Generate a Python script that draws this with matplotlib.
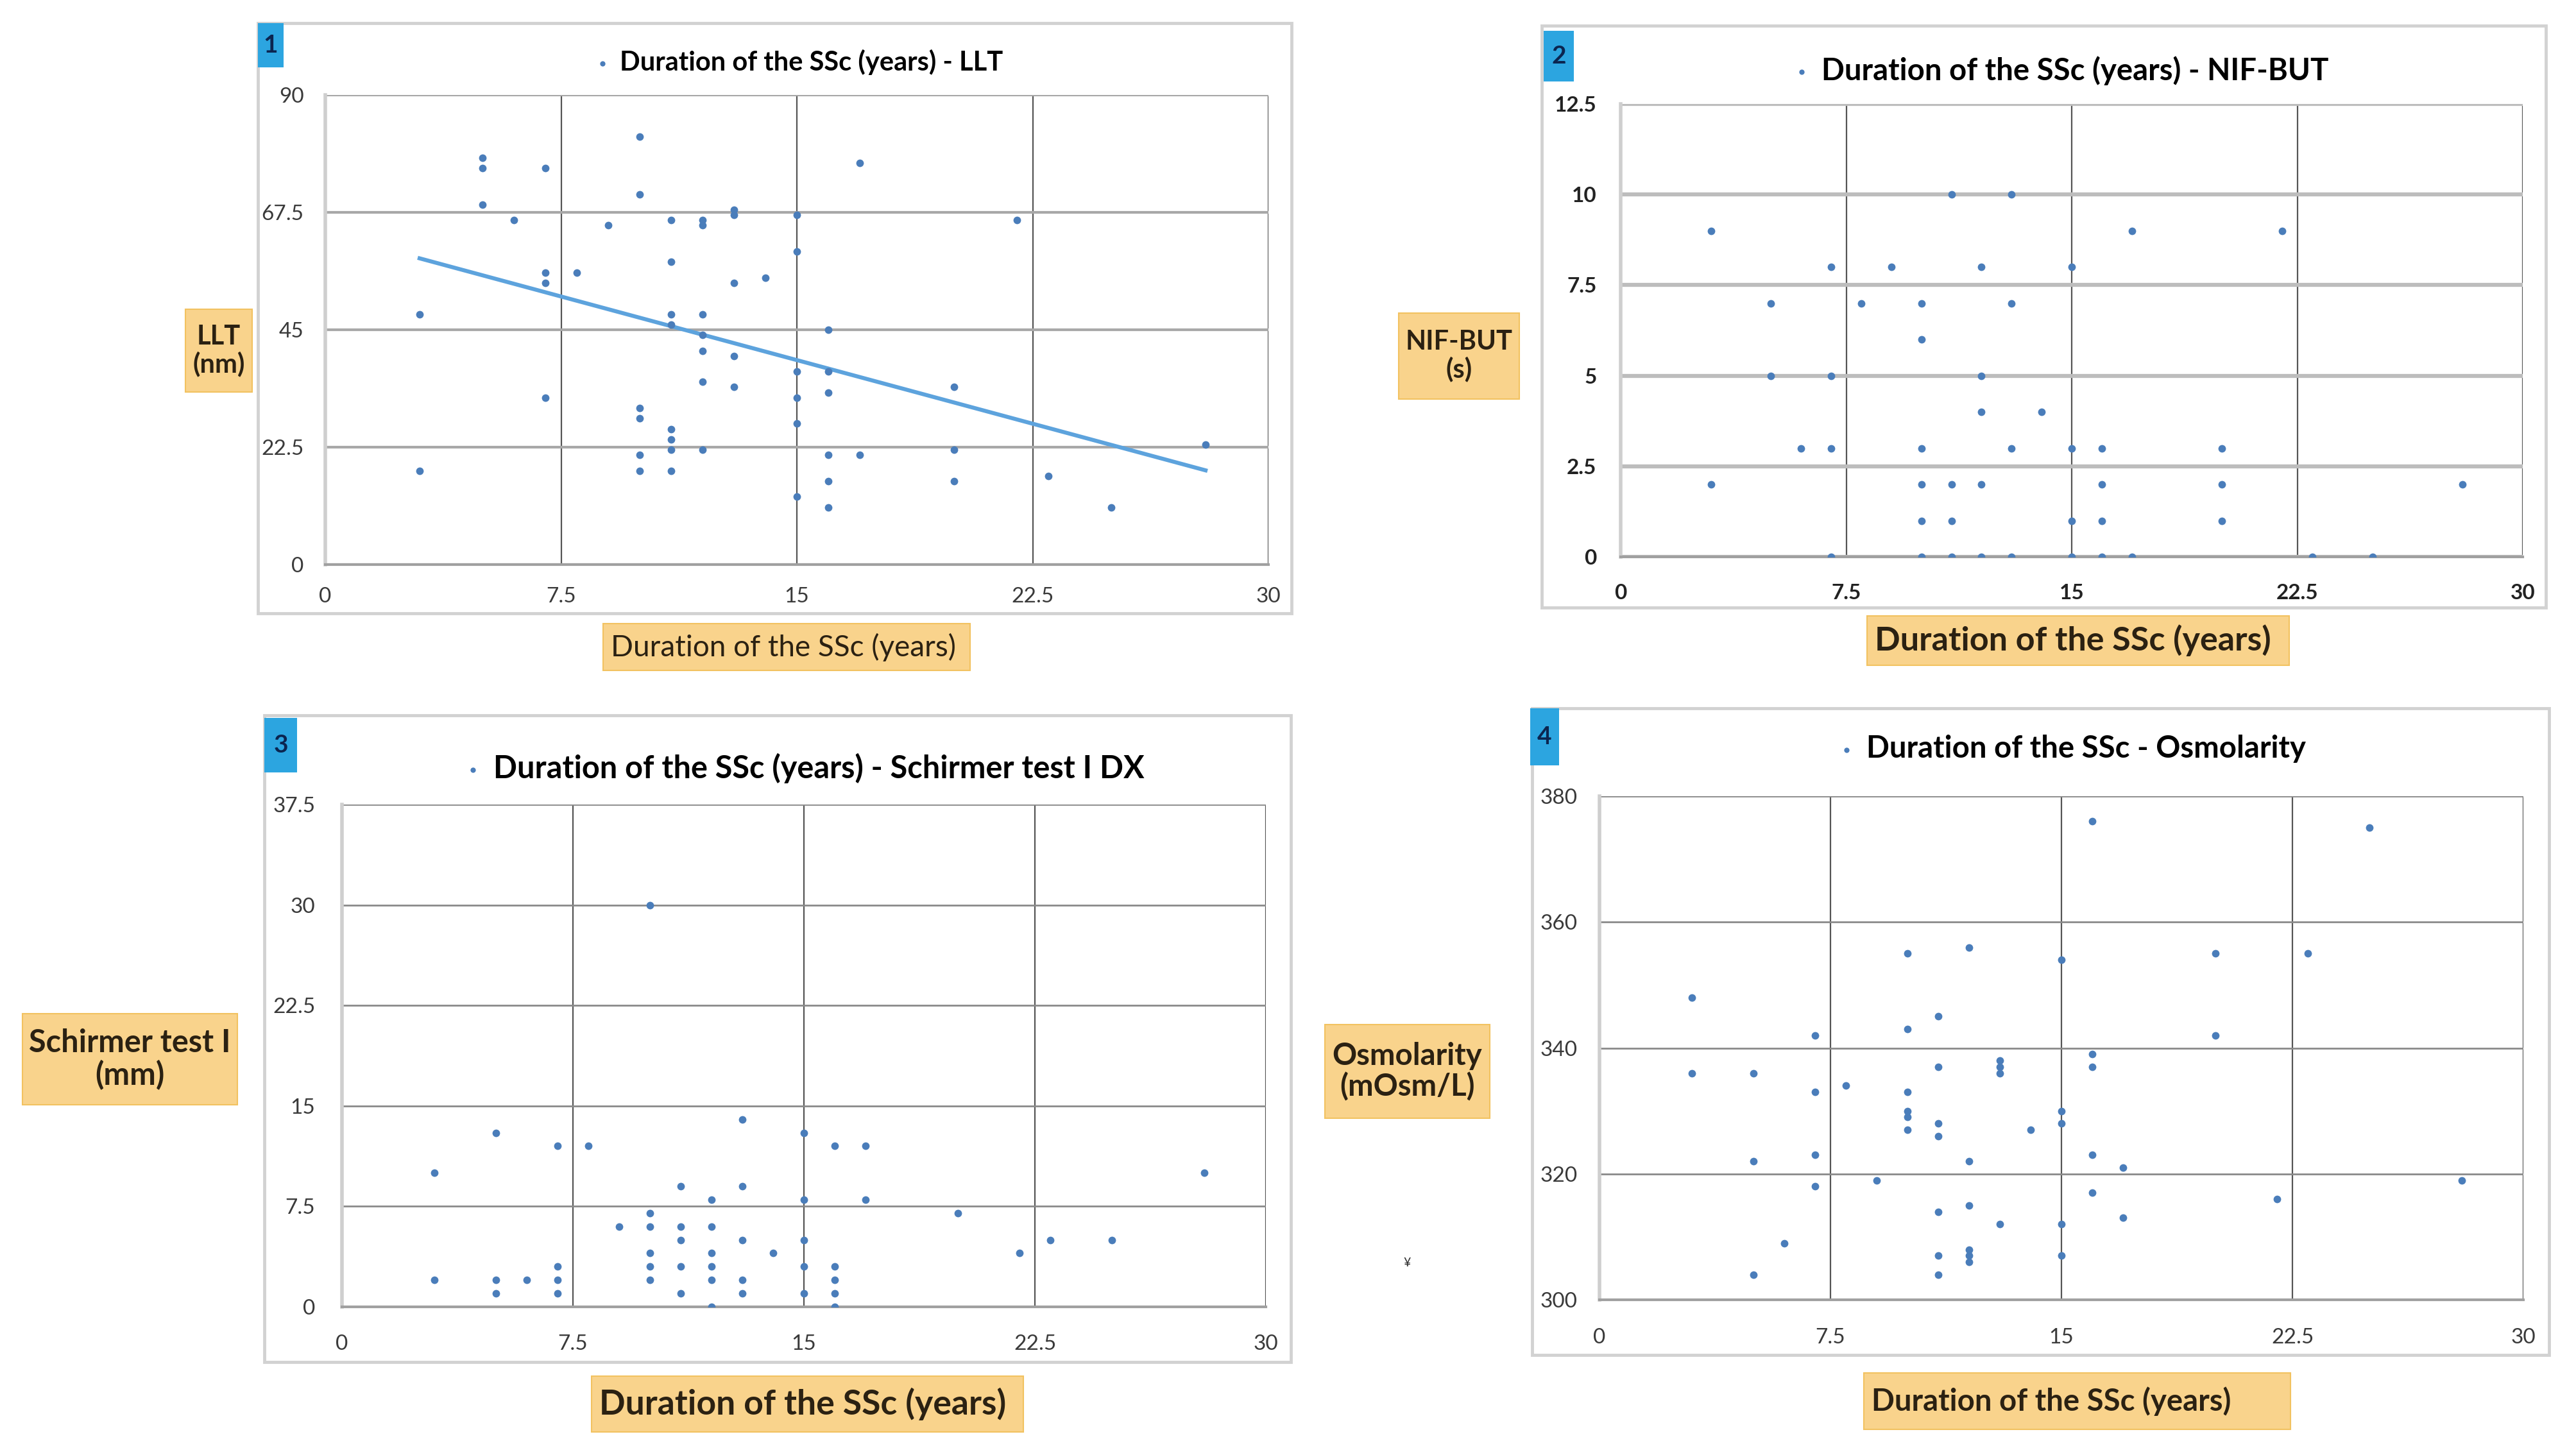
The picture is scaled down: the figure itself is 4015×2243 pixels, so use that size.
import matplotlib
matplotlib.use("Agg")
import matplotlib.pyplot as plt
import numpy as np
from matplotlib.patches import Rectangle
from matplotlib.ticker import FuncFormatter

# --- data ---
llt_years = [3, 3, 5, 5, 5, 6, 7, 7, 7, 7, 8, 9, 10, 10, 10, 10, 10, 10,
             11, 11, 11, 11, 11, 11, 11, 11, 12, 12, 12, 12, 12, 12, 12,
             13, 13, 13, 13, 13, 14, 15, 15, 15, 15, 15, 15, 16, 16, 16,
             16, 16, 16, 17, 17, 20, 20, 20, 22, 23, 25, 28]
llt_nm = [48, 18, 78, 76, 69, 66, 76, 56, 54, 32, 56, 65, 82, 71, 30, 28, 21, 18,
          66, 58, 48, 46, 26, 24, 22, 18, 66, 65, 48, 44, 41, 35, 22,
          68, 67, 54, 40, 34, 55, 67, 60, 37, 32, 27, 13, 45, 37, 33,
          21, 16, 11, 77, 21, 34, 22, 16, 66, 17, 11, 23]

but_years = [3, 3, 5, 5, 6, 7, 7, 7, 7, 8, 9, 10, 10, 10, 10, 10, 10,
             11, 11, 11, 11, 12, 12, 12, 12, 12, 13, 13, 13, 13, 14,
             15, 15, 15, 15, 16, 16, 16, 16, 17, 17, 20, 20, 20, 22, 23, 25, 28]
but_s = [9, 2, 7, 5, 3, 8, 5, 3, 0, 7, 8, 7, 6, 3, 2, 1, 0,
         10, 2, 1, 0, 8, 5, 4, 2, 0, 10, 7, 3, 0, 4,
         8, 3, 1, 0, 3, 2, 1, 0, 9, 0, 3, 2, 1, 9, 0, 0, 2]

sch_years = [3, 3, 5, 5, 5, 6, 7, 7, 7, 7, 8, 9, 10, 10, 10, 10, 10, 10,
             11, 11, 11, 11, 11, 12, 12, 12, 12, 12, 12, 13, 13, 13, 13, 13,
             14, 15, 15, 15, 15, 15, 16, 16, 16, 16, 16, 17, 17, 20, 22, 23, 25, 28]
sch_mm = [10, 2, 13, 2, 1, 2, 12, 3, 2, 1, 12, 6, 30, 7, 6, 4, 3, 2,
          9, 6, 5, 3, 1, 8, 6, 4, 3, 2, 0, 14, 9, 5, 2, 1,
          4, 13, 8, 5, 3, 1, 12, 3, 2, 1, 0, 12, 8, 7, 4, 5, 5, 10]

osm_years = [3, 3, 5, 5, 5, 6, 7, 7, 7, 7, 8, 9, 10, 10, 10, 10, 10, 10,
             11, 11, 11, 11, 11, 11, 11, 12, 12, 12, 12, 12, 12,
             13, 13, 13, 13, 14, 15, 15, 15, 15, 15, 16, 16, 16, 16, 16,
             17, 17, 20, 20, 22, 23, 25, 28]
osm_val = [348, 336, 336, 322, 304, 309, 342, 333, 323, 318, 334, 319,
           355, 343, 333, 330, 329, 327, 345, 337, 328, 326, 314, 307, 304,
           356, 322, 315, 308, 307, 306, 338, 337, 336, 312, 327,
           354, 330, 328, 312, 307, 376, 339, 337, 323, 317,
           321, 313, 355, 342, 316, 355, 375, 319]

x_ticks = [0, 7.5, 15, 22.5, 30]
llt_ticks = [0, 22.5, 45, 67.5, 90]
but_ticks = [0, 2.5, 5, 7.5, 10, 12.5]
sch_ticks = [0, 7.5, 15, 22.5, 30, 37.5]
osm_ticks = [300, 320, 340, 360, 380]

titles = ["Duration of the SSc (years) - LLT",
          "Duration of the SSc (years) - NIF-BUT",
          "Duration of the SSc (years) - Schirmer test I DX",
          "Duration of the SSc - Osmolarity"]
y_labels = ["LLT\n(nm)", "NIF-BUT\n(s)", "Schirmer test I\n(mm)", "Osmolarity\n(mOsm/L)"]
x_label = "Duration of the SSc (years)"

# --- layout, in pixels of the 4015x2243 picture ---
W, H = 4015, 2243
FONT = "Lato"
DOT = "#4A7DBA"
ORANGE = "#F9D38C"
NUMBLUE = "#2CA5E0"


def fbox(l, t, r, b):
    return [l / W, 1 - b / H, (r - l) / W, (b - t) / H]


def rect(fig, l, t, r, b, **kw):
    x, y, w, h = fbox(l, t, r, b)
    p = Rectangle((x, y), w, h, transform=fig.transFigure, **kw)
    fig.patches.append(p)
    return p


def ftext(fig, x, y, s, **kw):
    fig.text(x / W, 1 - y / H, s, family=FONT, **kw)


panels = [
    dict(xs=llt_years, ys=llt_nm, yt=llt_ticks, ax=(507, 148, 1977, 880),
         frame=(402, 36, 2013, 956), num=(402, 36, 442, 105),
         title=(1246, 97, 30), ylab=(289, 482, 393, 611, 30),
         xlab=(940, 972, 1512, 1045, 33, "normal"),
         hgrid=("#a8a8a8", 3.0), pad=(24, 25), tickw="normal", trend=True),
    dict(xs=but_years, ys=but_s, yt=but_ticks, ax=(2526, 162, 3932, 868),
         frame=(2403, 40, 3968, 947), num=(2406, 48, 2453, 127),
         title=(3213, 110, 34), ylab=(2180, 488, 2368, 622, 30),
         xlab=(2910, 960, 3568, 1037, 37.5, "bold"),
         hgrid=("#bdbdbd", 4.5), pad=(27, 30), tickw="bold", trend=False),
    dict(xs=sch_years, ys=sch_mm, yt=sch_ticks, ax=(533, 1254, 1973, 2037),
         frame=(412, 1115, 2012, 2123), num=(412, 1119, 463, 1204),
         title=(1254, 1197, 35), ylab=(35, 1580, 370, 1722, 35),
         xlab=(922, 2145, 1595, 2232, 38.5, "bold"),
         hgrid=("#8a8a8a", 2.0), pad=(30, 31), tickw="normal", trend=False),
    dict(xs=osm_years, ys=osm_val, yt=osm_ticks, ax=(2493, 1241, 3933, 2026),
         frame=(2388, 1104, 3973, 2112), num=(2385, 1104, 2430, 1193),
         title=(3230, 1167, 34), ylab=(2065, 1597, 2322, 1743, 34),
         xlab=(2905, 2140, 3570, 2228, 34, "bold"),
         hgrid=("#8a8a8a", 2.0), pad=(25, 32), tickw="normal", trend=False),
]

fig = plt.figure(figsize=(W / 100, H / 100), dpi=100)
fig.patch.set_facecolor("white")

for i, p in enumerate(panels):
    # outer chart frame
    rect(fig, *p["frame"], fill=False, ec="#d2d2d2", lw=3.5, zorder=0)

    ax = fig.add_axes(fbox(*p["ax"]))
    sc = ax.scatter(p["xs"], p["ys"], s=72, color=DOT, zorder=3, linewidths=0)
    if p["trend"]:
        k, c = np.polyfit(p["xs"], p["ys"], 1)
        xl = np.array([min(p["xs"]), max(p["xs"])])
        ax.plot(xl, k * xl + c, color="#5DA3DD", lw=4.5, zorder=2)

    ax.set_xlim(0, 30)
    ax.set_ylim(p["yt"][0], p["yt"][-1])
    ax.set_xticks(x_ticks)
    ax.set_yticks(p["yt"])
    fmt = FuncFormatter(lambda v, pos: "%g" % v)
    ax.xaxis.set_major_formatter(fmt)
    ax.yaxis.set_major_formatter(fmt)
    for lab in ax.get_xticklabels() + ax.get_yticklabels():
        lab.set_family(FONT)
        lab.set_fontsize(24)
        lab.set_color("#222222" if p["tickw"] == "bold" else "#3a3a3a")
        lab.set_fontweight(p["tickw"])
    ax.tick_params(length=0)
    ax.tick_params(axis="y", pad=p["pad"][0])
    ax.tick_params(axis="x", pad=p["pad"][1])

    ax.grid(axis="x", color="#555555", lw=1.6, zorder=1)
    ax.grid(axis="y", color=p["hgrid"][0], lw=p["hgrid"][1], zorder=1)
    for side in ["top", "right"]:
        ax.spines[side].set_visible(False)
    ax.spines["left"].set_color("#cfcfcf")
    ax.spines["left"].set_linewidth(4)
    ax.spines["bottom"].set_color("#a0a0a0")
    ax.spines["bottom"].set_linewidth(3)
    ax.set_axisbelow(True)

    # legend used as the chart title
    tx, ty, tfs = p["title"]
    ax.legend([sc], [titles[i]], loc="center", frameon=False,
              bbox_to_anchor=(tx / W, 1 - ty / H),
              bbox_transform=fig.transFigure, handlelength=0.5, handletextpad=0.4,
              markerscale=0.7, prop={"family": FONT, "weight": "bold", "size": tfs})

    # blue panel number
    nl, nt, nr, nb = p["num"]
    rect(fig, nl, nt, nr, nb, fc=NUMBLUE, ec="none", zorder=5)
    ftext(fig, (nl + nr) / 2, (nt + nb) / 2, str(i + 1), ha="center", va="center",
          fontsize=28, weight="bold", color="#0b2550", zorder=6)

    # orange axis label boxes
    l, t, r, b, fs = p["ylab"]
    rect(fig, l, t, r, b, fc=ORANGE, ec="#f2c260", lw=1.5, zorder=5)
    ftext(fig, (l + r) / 2, (t + b) / 2, y_labels[i], ha="center", va="center",
          fontsize=fs, weight="bold", color="#2b2112", linespacing=1.1, zorder=6)
    l, t, r, b, fs, fw = p["xlab"]
    rect(fig, l, t, r, b, fc=ORANGE, ec="#f2c260", lw=1.5, zorder=5)
    ftext(fig, l + 12, (t + b) / 2, x_label, ha="left", va="center",
          fontsize=fs, weight=fw, color="#2b2112", zorder=6)

ftext(fig, 2193, 1968, "¥", ha="center", va="center", fontsize=14, color="#333333")

fig.savefig("out.png", dpi=100, facecolor="white")
